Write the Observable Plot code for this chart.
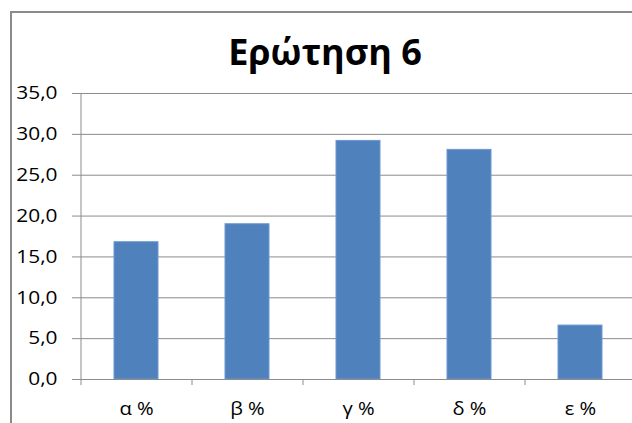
<!DOCTYPE html>
<html>
<head>
<meta charset="utf-8">
<script src="https://cdn.jsdelivr.net/npm/d3@7"></script>
<script src="https://cdn.jsdelivr.net/npm/@observablehq/plot@0.6"></script>
<style>
  html, body { margin: 0; padding: 0; background: #fff; overflow: hidden; width: 632px; height: 423px; }
  #wrap { position: relative; width: 632px; height: 423px; }
  #frame { position: absolute; left: 10px; top: 11px; width: 700px; height: 500px; border-left: 2px solid #8a8a8a; border-top: 2px solid #8a8a8a; box-sizing: border-box; }
  #title { position: absolute; left: 0; top: 34px; width: 650px; text-align: center; font-family: "Open Sans", sans-serif; font-weight: bold; font-size: 36px; color: #000; line-height: 1; }
  #chart { position: absolute; left: 0; top: 0; }
</style>
</head>
<body>
<div id="wrap">
  <div id="frame"></div>
  <div id="title">Ερώτηση 6</div>
  <div id="chart"></div>
</div>
<script>
const categories = ["α %", "β %", "γ %", "δ %", "ε %"];
const values = [16.8, 19.0, 29.2, 28.1, 6.6];
const yTicks = [0, 5, 10, 15, 20, 25, 30, 35];

const data = categories.map((c, i) => ({cat: c, value: values[i]}));
const fmt = d => d.toFixed(1).replace(".", ",");
const grid = "#8c8c8c";

const chart = Plot.plot({
  width: 632,
  height: 423,
  marginTop: 93,
  marginBottom: 44,
  marginLeft: 81,
  marginRight: 0,
  style: {fontFamily: "'Open Sans', sans-serif", fontSize: "18px", color: "#000", background: "transparent", overflow: "hidden"},
  x: {domain: categories, range: [81, 636], paddingInner: 0.6, paddingOuter: 0.3, axis: null, label: null},
  y: {domain: [0, 35], axis: null, label: null},
  marks: [
    Plot.ruleY(yTicks, {stroke: grid, strokeWidth: 1}),
    Plot.axisY(yTicks, {tickSize: 9, tickPadding: 15, tickFormat: fmt, stroke: grid, fill: "#000", label: null}),
    Plot.barY(data, {x: "cat", y: "value", fill: "#4f81bd", stroke: "#6e98cf", strokeWidth: 1}),
    Plot.ruleX([categories[0]], {x: d => d, y1: 0, y2: 35, dx: -55.5, stroke: grid}),
    Plot.axisX(categories, {tickSize: 6, tickFormat: () => "", dx: -55.5, stroke: grid, label: null}),
    Plot.axisX(categories, {tickSize: 0, tickPadding: 23, fill: "#000", label: null}),
    Plot.ruleY([0], {stroke: grid})
  ]
});
// widen the tick label glyphs horizontally like the reference
const widen = (sel, k) => chart.querySelectorAll(sel).forEach(t => {
  const tr = t.getAttribute("transform") || "";
  t.setAttribute("transform", tr + ` scale(${k},1)`);
});
widen('g[aria-label="y-axis tick label"] text', 1.16);
widen('g[aria-label="x-axis tick label"] text', 1.12);
document.getElementById("chart").appendChild(chart);
</script>
</body>
</html>
